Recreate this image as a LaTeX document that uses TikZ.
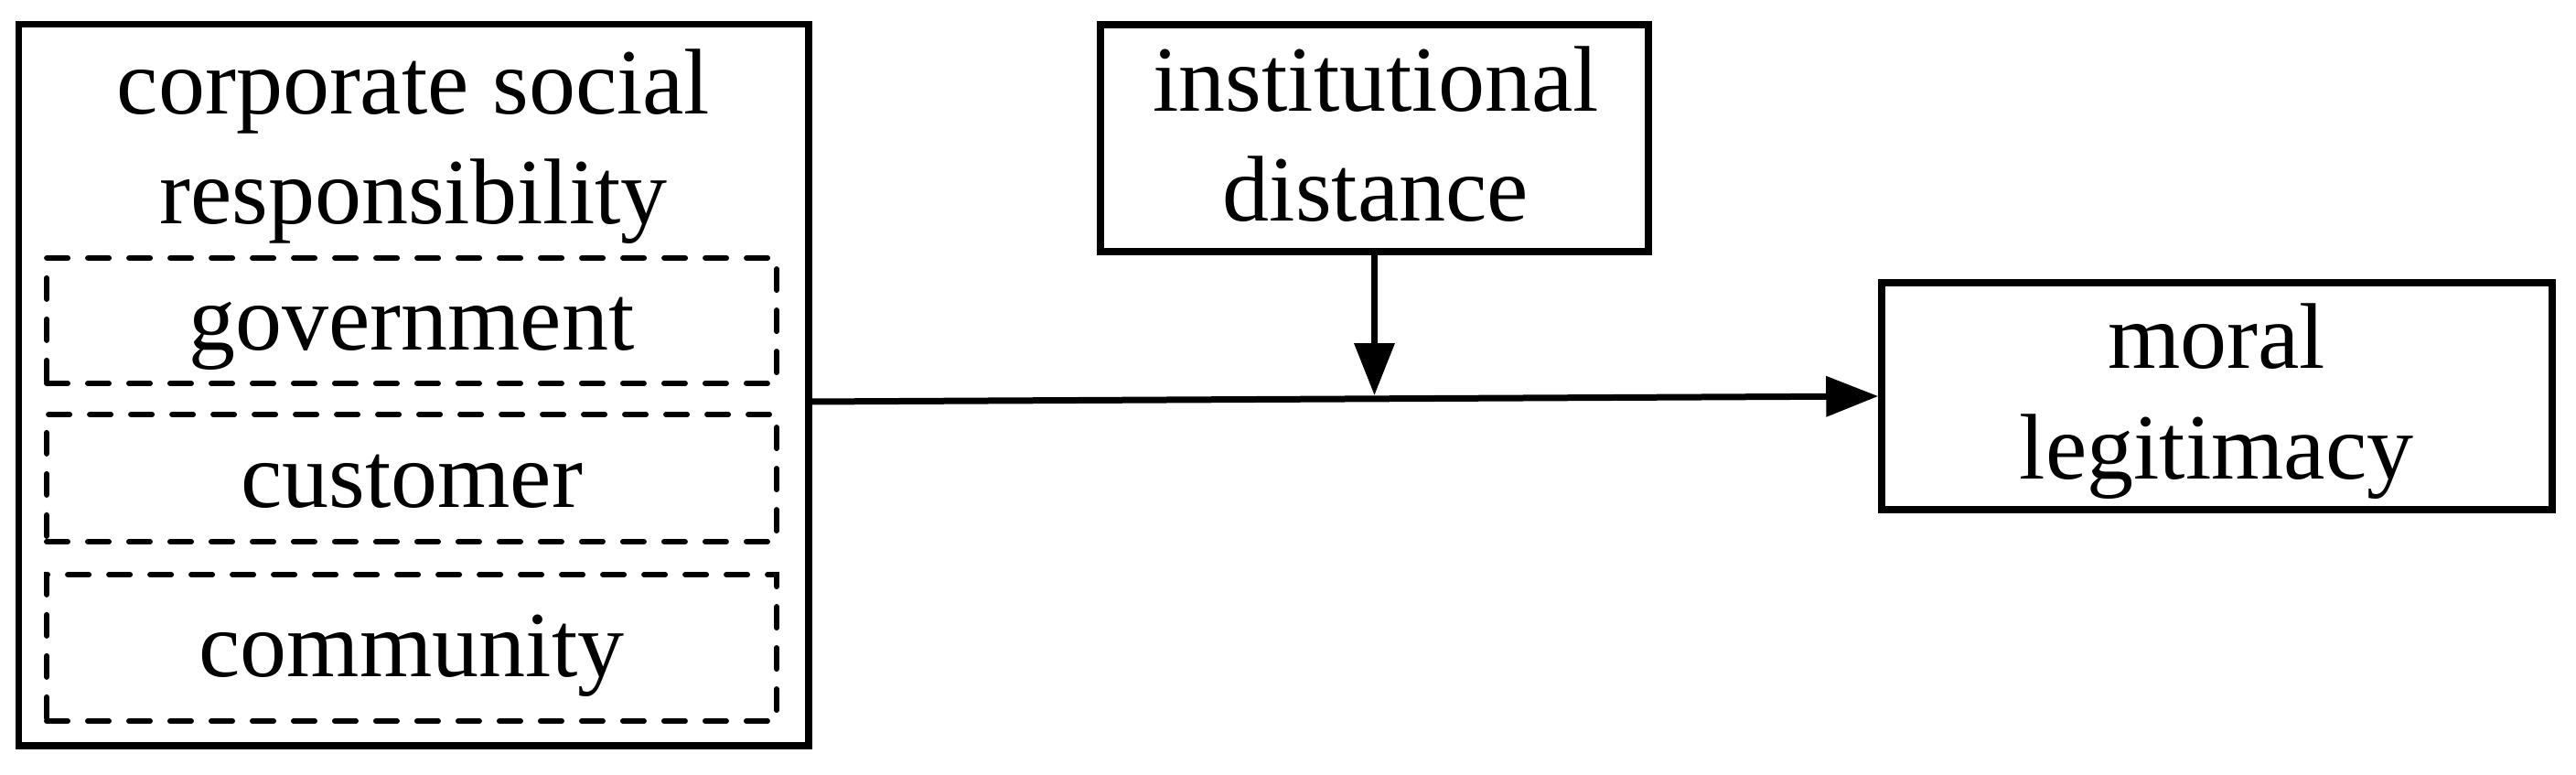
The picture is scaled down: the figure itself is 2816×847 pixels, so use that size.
\documentclass[tikz,border=0pt]{standalone}
\usepackage{fontspec}
\setmainfont{Liberation Serif}
\usetikzlibrary{arrows.meta,fit}
\begin{document}
\begin{tikzpicture}[x=0.1pt,y=-0.1pt,
  solidbox/.style={draw=black, line width=0.75pt, inner sep=0pt},
  dashbox/.style={draw=black, line width=0.6pt, inner sep=0pt, line cap=round, dash pattern=on 2.3pt off 2.2pt},
  lbl/.style={inner sep=0pt, anchor=base, font=\fontsize{10.2pt}{12pt}\selectfont},
  arr/.style={line width=0.7pt, -{Triangle[length=5.7pt,width=4.3pt]}}]
\useasboundingbox (0,0) rectangle (2816,847);
% boxes
\node[solidbox, fit={(20.7,26.7) (884,815)}] (csr) {};
\node[dashbox, fit={(51,282) (849,419)}] (gov) {};
\node[dashbox, fit={(51,453) (849,592)}] (cus) {};
\node[dashbox, fit={(51,628) (849,788)}] (com) {};
\node[solidbox, fit={(1203,27) (1802,275)}] (inst) {};
\node[solidbox, fit={(2057,309) (2790,557)}] (moral) {};
% texts
\node[lbl] (csr1) at (452,124) {corporate social};
\node[lbl] (csr2) at (452,244) {responsibility};
\node[lbl] (govt) at (450,382) {government};
\node[lbl] (cust) at (450,554) {customer};
\node[lbl] (comt) at (450,739) {community};
\node[lbl] (inst1) at (1504,121) {institutional};
\node[lbl] (inst2) at (1504,241) {distance};
\node[lbl] (mor1) at (2423,402) {moral};
\node[lbl] (mor2) at (2423,523) {legitimacy};
% connectors
\coordinate (hs) at (884,439);
\coordinate (meet) at (1502.5,432);
\draw[arr] (hs) -- (moral.west);
\draw[arr] (inst.south) -- (meet);
\end{tikzpicture}
\end{document}
